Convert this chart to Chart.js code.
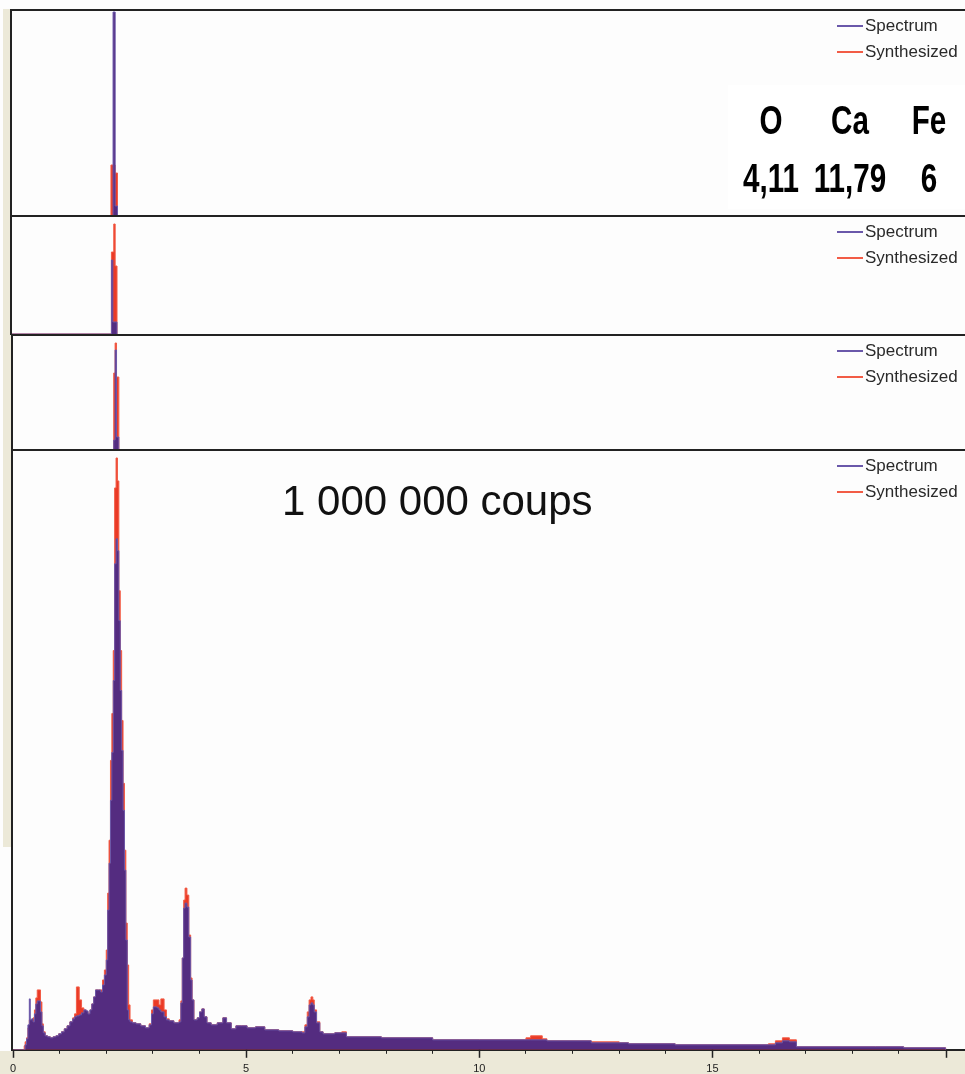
<!DOCTYPE html>
<html>
<head>
<meta charset="utf-8">
<script src="https://cdn.jsdelivr.net/npm/chart.js@4.4.0/dist/chart.umd.min.js"></script>
<style>
  html, body { margin: 0; padding: 0; background: #fdfdfd; overflow: hidden; }
  body { width: 965px; height: 1074px; position: relative; }
  canvas, .rule, .strip { position: absolute; }
  .rule { background: #222; }
  .strip { background: #ece9d8; }
</style>
</head>
<body>
<!-- window frame -->
<div class="strip" style="left:3px;top:9px;width:7px;height:326px"></div>
<div class="strip" style="left:3px;top:335px;width:8px;height:512px"></div>
<div class="strip" style="left:0;top:1051px;width:965px;height:23px"></div>

<canvas id="run1" width="956" height="205" style="left:12px;top:11px"></canvas>
<canvas id="run2" width="956" height="117" style="left:12px;top:217px"></canvas>
<canvas id="run3" width="955" height="114" style="left:13px;top:336px"></canvas>
<canvas id="run4" width="968" height="634" style="left:0;top:451px"></canvas>

<!-- panel borders -->
<div class="rule" style="left:10px;top:9px;width:955px;height:2px"></div>
<div class="rule" style="left:10px;top:215px;width:955px;height:2px"></div>
<div class="rule" style="left:11px;top:334px;width:954px;height:2px"></div>
<div class="rule" style="left:11px;top:449px;width:954px;height:2px"></div>
<div class="rule" style="left:10px;top:9px;width:2px;height:326px"></div>
<div class="rule" style="left:11px;top:334px;width:2px;height:717px"></div>

<script>
// energy axis in keV (1024 channels of 20 eV)
const energyMax = 20.48;
const labeledTicks = [0, 5, 10, 15, 20];

// composition table shown in the first panel (wt %)
const elements = ['O', 'Ca', 'Fe'];
const weights = ['4,11', '11,79', '6'];
const countsCaption = '1 000 000 coups';

// short acquisitions: only the channels around 2.2 keV register
const energyRun1 = [0, 2.12, 2.165, 2.21, 2.26];
const spectrumRun1 = [0, 0, 2040, 100, 0];
const synthRun1 = [0, 510, 510, 430, 0];
const yMaxRun1 = 2050;

const energyRun2 = [0, 2.13, 2.16, 2.18, 2.21, 2.25];
const spectrumRun2 = [0, 740, 120, 120, 120, 0];
const synthRun2 = [0, 820, 820, 1100, 680, 0];
const yMaxRun2 = 1170;

const energyRun3 = [0, 2.16, 2.19, 2.22, 2.27];
const spectrumRun3 = [0, 100, 1000, 130, 0];
const synthRun3 = [0, 770, 1070, 730, 0];
const yMaxRun3 = 1140;

// full acquisition, bin left edges (keV) and counts
const energyMain = [
  0, 0.24, 0.26, 0.29, 0.32, 0.35, 0.37, 0.40, 0.43, 0.46,
  0.49, 0.52, 0.56, 0.59, 0.62, 0.65, 0.69, 0.74, 0.80, 0.86,
  0.92, 0.98, 1.04, 1.10, 1.16, 1.22, 1.28, 1.32, 1.36, 1.42,
  1.47, 1.52, 1.57, 1.61, 1.65, 1.69, 1.73, 1.77, 1.83, 1.88,
  1.92, 1.96, 2.00, 2.03, 2.06, 2.09, 2.12, 2.15, 2.18, 2.21,
  2.24, 2.27, 2.30, 2.33, 2.36, 2.39, 2.42, 2.45, 2.48, 2.51,
  2.56, 2.64, 2.74, 2.84, 2.92, 2.97, 3.01, 3.09, 3.13, 3.17,
  3.24, 3.29, 3.35, 3.45, 3.56, 3.60, 3.63, 3.66, 3.69, 3.73,
  3.77, 3.81, 3.84, 3.88, 3.95, 4.00, 4.05, 4.10, 4.16, 4.25,
  4.38, 4.50, 4.58, 4.68, 4.78, 4.90, 5.02, 5.20, 5.40, 5.70,
  6.00, 6.20, 6.26, 6.31, 6.35, 6.39, 6.43, 6.46, 6.51, 6.58,
  6.65, 6.90, 7.05, 7.15, 7.90, 9.00, 10.00, 11.00, 11.10, 11.35,
  11.45, 12.40, 13.00, 13.20, 14.20, 16.20, 16.35, 16.50, 16.65, 16.80,
  18.50, 19.10, 20.00
];
const spectrumMain = [
  0, 0, 50, 110, 250, 510, 300, 310, 280, 360,
  460, 490, 490, 380, 240, 170, 140, 130, 120, 130,
  140, 160, 180, 210, 240, 280, 310, 330, 340, 350,
  370, 400, 390, 360, 400, 460, 530, 600, 600, 580,
  650, 750, 900, 1400, 1870, 2500, 2980, 3700, 4870, 5120,
  5000, 4300, 3600, 3000, 2400, 1800, 1100, 400, 300, 280,
  270, 260, 240, 220, 250, 360, 430, 420, 400, 380,
  330, 300, 290, 270, 280, 470, 920, 1420, 1470, 1430,
  1130, 700, 500, 300, 320, 380, 410, 330, 270, 250,
  270, 320, 270, 210, 240, 240, 220, 230, 200, 190,
  180, 170, 230, 330, 450, 470, 450, 380, 270, 180,
  160, 170, 170, 130, 120, 100, 100, 100, 100, 100,
  90, 70, 70, 60, 50, 50, 70, 90, 80, 30,
  30, 20, 0
];
const synthMain = [
  0, 40, 80, 120, 220, 300, 300, 300, 320, 400,
  520, 600, 600, 480, 260, 180, 140, 130, 120, 130,
  140, 160, 180, 210, 240, 280, 320, 360, 630, 500,
  420, 400, 380, 360, 400, 460, 530, 600, 600, 600,
  700, 800, 1000, 1570, 2100, 2900, 3370, 4000, 5630, 5930,
  5700, 4600, 4000, 3300, 2670, 2000, 1270, 850, 450, 300,
  270, 260, 240, 220, 260, 400, 500, 500, 450, 510,
  400, 310, 290, 270, 300, 490, 920, 1500, 1620, 1550,
  1150, 720, 500, 300, 320, 380, 410, 330, 270, 250,
  270, 320, 270, 210, 240, 240, 220, 230, 200, 190,
  180, 180, 250, 380, 500, 530, 500, 400, 280, 180,
  160, 170, 180, 130, 120, 100, 100, 120, 140, 110,
  90, 80, 70, 60, 50, 60, 90, 120, 100, 30,
  30, 20, 0
];
const yMaxMain = 6000;

const SPEC_FILL = 'rgb(84,44,128)';
const SPEC_EDGE = 'rgb(106,88,170)';
const SYN_FILL = 'rgb(234,58,38)';
const SYN_EDGE = 'rgb(242,92,70)';

function points(energy, counts) {
  return energy.map((e, i) => ({ x: e, y: counts[i] }));
}

// two-row legend in the top right corner of each panel
const panelLegend = {
  id: 'panelLegend',
  afterDraw(chart) {
    const { ctx, chartArea } = chart;
    const x0 = chartArea.right - 103;
    ctx.save();
    ctx.font = '17px "Liberation Sans", Arial, sans-serif';
    ctx.textBaseline = 'middle';
    chart.data.datasets.forEach((ds, i) => {
      const y = chartArea.top + 15 + i * 26;
      ctx.strokeStyle = ds.borderColor;
      ctx.lineWidth = 2;
      ctx.beginPath();
      ctx.moveTo(x0 - 28, y);
      ctx.lineTo(x0 - 2, y);
      ctx.stroke();
      ctx.fillStyle = '#2a2a2a';
      ctx.fillText(ds.label, x0, y);
    });
    ctx.restore();
  }
};

// narrow bold table: squeeze the glyphs horizontally
function narrowText(ctx, text, x, y) {
  ctx.save();
  ctx.translate(x, y);
  ctx.scale(0.74, 1);
  ctx.fillText(text, 0, 0);
  ctx.restore();
}

const compositionTable = {
  id: 'compositionTable',
  afterDraw(chart) {
    const { ctx, chartArea } = chart;
    ctx.save();
    ctx.fillStyle = '#fff';
    ctx.fillRect(chartArea.right - 240, chartArea.top + 74, 240, 124);
    ctx.fillStyle = '#000';
    ctx.font = 'bold 40px "Liberation Sans", Arial, sans-serif';
    ctx.textAlign = 'center';
    ctx.textBaseline = 'middle';
    elements.forEach((el, i) => {
      const x = chartArea.right - 197 + i * 79;
      narrowText(ctx, el, x, chartArea.top + 112);
      narrowText(ctx, weights[i], x, chartArea.top + 170);
    });
    ctx.restore();
  }
};

const caption = {
  id: 'caption',
  afterDraw(chart) {
    const { ctx, chartArea } = chart;
    ctx.save();
    ctx.fillStyle = '#111';
    ctx.font = '42px "Liberation Sans", Arial, sans-serif';
    ctx.textBaseline = 'middle';
    ctx.fillText(countsCaption, chartArea.left + 269, chartArea.top + 52);
    ctx.restore();
  }
};

// longer marks under the labelled energies
const majorTicks = {
  id: 'majorTicks',
  afterDraw(chart) {
    const { ctx, chartArea, scales } = chart;
    ctx.save();
    ctx.strokeStyle = '#222';
    ctx.lineWidth = 1.5;
    labeledTicks.forEach(v => {
      const x = Math.round(scales.x.getPixelForValue(v)) + 0.5;
      ctx.beginPath();
      ctx.moveTo(x, chartArea.bottom);
      ctx.lineTo(x, chartArea.bottom + 8);
      ctx.stroke();
    });
    ctx.restore();
  }
};

function makePanel(id, energy, spectrum, synth, yMax, withAxis, extra) {
  const xScale = withAxis ? {
    type: 'linear', min: 0, max: energyMax,
    afterFit(s) { s.paddingLeft = 0; s.paddingRight = 0; },
    grid: { display: true, drawOnChartArea: false, drawTicks: true, tickLength: 4, color: '#222', tickWidth: 1 },
    border: { display: true, color: '#222', width: 2 },
    ticks: {
      stepSize: 1, autoSkip: false, maxRotation: 0, padding: 9, color: '#222',
      font: { family: '"Liberation Sans", Arial, sans-serif', size: 11 },
      callback: v => labeledTicks.includes(v) ? String(v) : ''
    }
  } : { type: 'linear', display: false, min: 0, max: energyMax };

  return new Chart(document.getElementById(id), {
    type: 'line',
    data: {
      datasets: [
        {
          label: 'Spectrum', data: points(energy, spectrum),
          stepped: true, fill: 'origin', pointRadius: 0,
          backgroundColor: SPEC_FILL, borderColor: SPEC_EDGE, borderWidth: 1
        },
        {
          label: 'Synthesized', data: points(energy, synth),
          stepped: true, fill: 'origin', pointRadius: 0,
          backgroundColor: SYN_FILL, borderColor: SYN_EDGE, borderWidth: 1
        }
      ]
    },
    options: {
      responsive: false,
      animation: false,
      events: [],
      layout: { padding: { left: withAxis ? 13 : 0 } },
      plugins: { legend: { display: false }, tooltip: { enabled: false } },
      scales: {
        x: xScale,
        y: { display: false, min: 0, max: yMax }
      }
    },
    plugins: [panelLegend].concat(extra)
  });
}

makePanel('run1', energyRun1, spectrumRun1, synthRun1, yMaxRun1, false, [compositionTable]);
makePanel('run2', energyRun2, spectrumRun2, synthRun2, yMaxRun2, false, []);
makePanel('run3', energyRun3, spectrumRun3, synthRun3, yMaxRun3, false, []);
makePanel('run4', energyMain, spectrumMain, synthMain, yMaxMain, true, [caption, majorTicks]);
</script>
</body>
</html>
